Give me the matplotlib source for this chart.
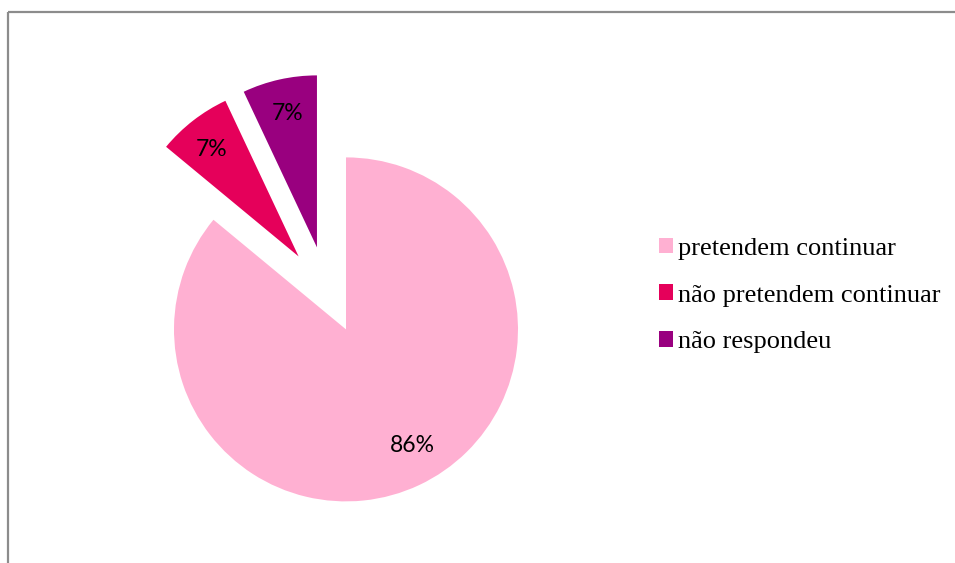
import math
import matplotlib
matplotlib.use("Agg")
import matplotlib.pyplot as plt
from matplotlib.lines import Line2D

# Survey answers (percent)
categories = ["pretendem continuar", "não pretendem continuar", "não respondeu"]
shares = [86, 7, 7]
colors = ["#FFB0D2", "#E5005A", "#99007F"]

W, H = 955, 563
fig = plt.figure(figsize=(W / 100, H / 100), dpi=100)
fig.patch.set_facecolor("white")
ax = fig.add_axes([0, 0, 1, 1])

cx, cy, r = 346, H - 329.4, 172
wedges, _ = ax.pie(shares, colors=colors, startangle=90, counterclock=False,
                   radius=r, center=(cx, cy), frame=True,
                   wedgeprops=dict(linewidth=0))
ax.set_xlim(0, W)
ax.set_ylim(0, H)
ax.set_aspect("auto")
ax.axis("off")

# Pull the two small slices out of the pie
pull = [0, 87, 87]
pull_dir = [0, 123.0, 109.5]
for w, d, a in zip(wedges, pull, pull_dir):
    if d:
        w.set_center((cx + d * math.cos(math.radians(a)),
                      cy + d * math.sin(math.radians(a))))

# Percentage labels inside each slice
label_r = [0.765, 0.808, 0.81]
label_turn = [5.1, 0.9, -0.4]
for w, val, lr, dt in zip(wedges, shares, label_r, label_turn):
    mid = math.radians((w.theta1 + w.theta2) / 2 + dt)
    wx, wy = w.center
    ax.text(wx + lr * r * math.cos(mid), wy + lr * r * math.sin(mid) - 2, f"{val}%",
            ha="center", va="center", fontsize=16.5, family="Lato", color="black")

# Legend
handles = [plt.Rectangle((0, 0), 1, 1, facecolor=c, edgecolor="none") for c in colors]
fig.legend(handles, categories, loc="center left", bbox_to_anchor=(659 / W, 1 - 295.5 / H),
           frameon=False, prop=dict(family="Liberation Serif", size=19),
           handlelength=0.53, handleheight=0.53, handletextpad=0.2,
           labelspacing=0.93, borderpad=0, borderaxespad=0)

# Chart area border (top and left edges)
fig.add_artist(Line2D([7.5 / W, 7.5 / W], [0, 1 - 11.5 / H], color="#8C8C8C", lw=1.6,
                      transform=fig.transFigure, solid_capstyle="butt"))
fig.add_artist(Line2D([7.5 / W, 1], [1 - 11.5 / H, 1 - 11.5 / H], color="#8C8C8C", lw=1.6,
                      transform=fig.transFigure, solid_capstyle="butt"))

fig.savefig("out.png", dpi=100, facecolor="white")
